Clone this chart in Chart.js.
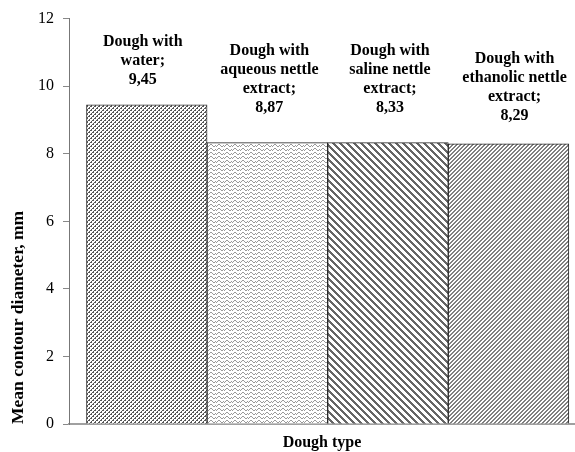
<!DOCTYPE html>
<html>
<head>
<meta charset="utf-8">
<script src="https://cdn.jsdelivr.net/npm/chart.js@4.4.0/dist/chart.umd.min.js"></script>
<style>
html, body { margin: 0; padding: 0; background: #fff; }
#wrap { width: 575px; height: 452px; }
</style>
</head>
<body>
<div id="wrap"><canvas id="chart"></canvas></div>
<script>
var doughTypes = [
    ['Dough with', 'water;'],
    ['Dough with', 'aqueous nettle', 'extract;'],
    ['Dough with', 'saline nettle', 'extract;'],
    ['Dough with', 'ethanolic nettle', 'extract;']
]

// bar heights as drawn in the figure
var barValues = [9.45, 8.33, 8.33, 8.29]

// value text printed in the labels
var valueLabels = ['9,45', '8,87', '8,33', '8,29']

var yTicks = [0, 2, 4, 6, 8, 10, 12]

// label placement tweaks (px): lift above bar top, horizontal nudge
var labelLift = [25, 35, 35, 28]
var labelShift = [-4, 2, 2, 6]

Chart.defaults.font.family = '"Liberation Serif", "Times New Roman", serif'
Chart.defaults.color = '#000'

function makePattern(size, fg, test) {
    var c = document.createElement('canvas')
    c.width = size[0]
    c.height = size[1]
    var g = c.getContext('2d')
    g.fillStyle = '#fff'
    g.fillRect(0, 0, size[0], size[1])
    g.fillStyle = fg
    for (var y = 0; y < size[1]; y++) {
        for (var x = 0; x < size[0]; x++) {
            if (test(x, y)) g.fillRect(x, y, 1, 1)
        }
    }
    return g.createPattern(c, 'repeat')
}

var weave = [[1,1,0,0],[0,0,0,1],[0,0,1,1],[0,1,0,0]]
var wave = [
    [0,0,1,1,0,0,0,0],
    [0,1,0,0,1,0,0,1],
    [1,0,0,0,0,1,1,0],
    [0,0,0,0,0,0,0,0]
]

var fills = [
    makePattern([4, 4], '#555', function (x, y) { return weave[y][x] === 1 }),
    makePattern([8, 4], '#9a9a9a', function (x, y) { return wave[y][x] === 1 }),
    makePattern([7, 7], '#666', function (x, y) { return ((x - y) % 7 + 7) % 7 < 3 }),
    makePattern([4, 4], '#808080', function (x, y) { return (x + y) % 4 < 2 })
]

var barLabels = {
    id: 'barLabels',
    afterDatasetsDraw: function (chart) {
        var ctx = chart.ctx
        var meta = chart.getDatasetMeta(0)
        ctx.save()
        ctx.font = 'bold 16px "Liberation Serif", "Times New Roman", serif'
        ctx.fillStyle = '#000'
        ctx.textAlign = 'center'
        ctx.textBaseline = 'middle'
        meta.data.forEach(function (bar, i) {
            var lines = doughTypes[i].concat([valueLabels[i]])
            var lastY = bar.y - labelLift[i]
            lines.forEach(function (t, j) {
                ctx.fillText(t, bar.x + labelShift[i], lastY - (lines.length - 1 - j) * 19)
            })
        })
        ctx.restore()
    }
}

var chart = new Chart(
    document.getElementById('chart'),
    {
        type: 'bar',
        data: {
            datasets: [
                {
                    data: barValues.map(function (v, i) { return { x: i, y: v } }),
                    backgroundColor: fills,
                    borderColor: '#2b2b2b',
                    borderWidth: 1,
                    barPercentage: 1,
                    categoryPercentage: 1
                }
            ]
        },
        options: {
            responsive: true,
            maintainAspectRatio: false,
            animation: false,
            layout: { padding: { top: 17, right: 0, bottom: 0, left: 0 } },
            plugins: {
                legend: { display: false },
                tooltip: { enabled: false }
            },
            scales: {
                x: {
                    type: 'linear',
                    offset: false,
                    min: -0.645,
                    max: 3.551,
                    ticks: { display: false, stepSize: 1, includeBounds: false },
                    grid: { display: false },
                    border: { display: true, color: '#a0a0a0', width: 2 },
                    title: {
                        display: true,
                        text: 'Dough type',
                        font: { size: 16, weight: 'bold' },
                        padding: { top: 6, bottom: 0 }
                    },
                    afterFit: function (scale) { scale.height = 28 }
                },
                y: {
                    min: yTicks[0],
                    max: yTicks[yTicks.length - 1],
                    ticks: { stepSize: yTicks[1] - yTicks[0], font: { size: 16 }, padding: 9 },
                    grid: { drawOnChartArea: false, drawTicks: true, tickLength: 6, color: '#888' },
                    border: { display: true, color: '#777', width: 1 },
                    title: {
                        display: true,
                        text: 'Mean contour diameter, mm',
                        align: 'start',
                        font: { size: 17.5, weight: 'bold' },
                        padding: { top: 8, bottom: 0 }
                    },
                    afterFit: function (scale) { scale.width = 69 }
                }
            }
        },
        plugins: [barLabels]
    }
);
</script>
</body>
</html>
